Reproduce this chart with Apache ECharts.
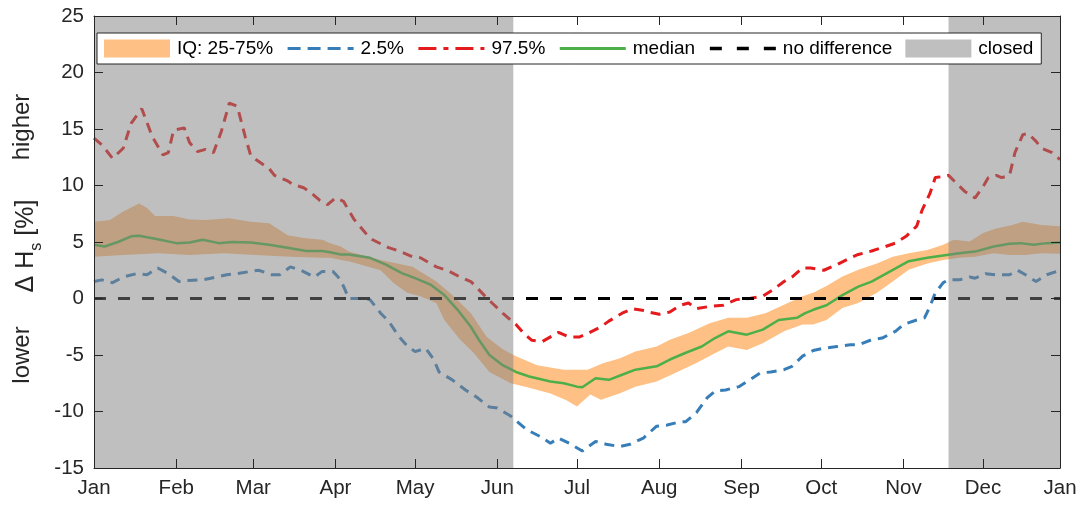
<!DOCTYPE html>
<html lang="en">
<head>
  <meta charset="UTF-8">
  <title>Hs difference</title>
  <script src="https://cdn.jsdelivr.net/npm/echarts@6.0.0/dist/echarts.min.js"></script>
  <style>
    body { margin: 0; background: #fff; }
  </style>
</head>
<body>
<div id="main" style="width:1081px;height:508px"></div>
<script>
  // x = day of year (leap year, 0 = 1 Jan)
  var monthTicks = [0, 31, 60, 91, 121, 152, 182, 213, 244, 274, 305, 335, 364];
  var monthNames = ['Jan','Feb','Mar','Apr','May','Jun','Jul','Aug','Sep','Oct','Nov','Dec','Jan'];

  var p975Days = [0,3,7,11,14,18,22,26,28,30,34,36,39,42,45,48,51,54,57,59,61,66,68,73,75,79,81,85,88,91,94,98,103,105,111,115,120,123,129,133,138,142,147,150,154,159,162,165,169,172,175,179,183,186,191,194,199,203,208,209,213,217,221,224,227,232,237,242,247,252,256,260,263,267,270,275,280,285,288,293,297,302,306,310,312,315,317,320,322,325,328,332,335,337,340,342,345,347,350,352,355,357,361,364];
  var p975Values = [14.2,13.6,12.4,13.3,15.5,16.8,14.3,12.7,12.9,14.9,15.1,13.8,13.0,13.2,12.9,14.8,17.3,17.0,14.3,12.7,12.3,11.5,10.9,10.4,10.1,9.8,9.5,8.7,8.3,8.9,8.6,7.0,5.6,5.2,4.5,4.2,3.7,3.6,2.8,2.5,1.9,1.5,0.3,-0.4,-1.3,-2.3,-3.1,-3.7,-3.8,-3.4,-3.0,-3.4,-3.4,-3.1,-2.5,-2.0,-1.3,-0.9,-1.1,-1.2,-1.4,-1.2,-0.6,-0.4,-0.9,-0.7,-0.6,-0.1,0.0,0.2,0.8,1.5,1.9,2.7,2.7,2.5,3.0,3.6,3.9,4.2,4.5,4.9,5.5,6.4,7.8,9.3,10.7,10.8,10.9,10.2,9.5,8.9,9.9,10.7,10.9,10.7,10.9,12.9,14.5,14.6,13.9,13.3,12.9,12.3];

  var p025Days = [0,3,7,11,16,20,24,28,32,35,41,44,50,54,59,62,67,70,74,78,83,86,90,92,94,96,100,104,108,111,115,118,121,125,128,130,135,140,144,149,152,157,160,163,168,172,175,179,184,189,193,198,202,207,212,216,221,223,227,231,234,238,243,247,251,255,260,263,267,271,275,280,285,288,293,297,302,305,310,313,315,317,320,322,326,330,332,336,340,345,348,351,355,359,364];
  var p025Values = [1.5,1.65,1.4,1.9,2.2,2.1,2.7,2.2,1.5,1.6,1.65,1.8,2.1,2.2,2.4,2.5,2.1,2.1,2.8,2.5,1.9,2.4,2.4,1.9,1.1,0.0,0.0,-0.1,-1.3,-2.0,-3.4,-4.2,-4.7,-4.4,-5.4,-6.5,-7.2,-8.1,-8.7,-9.6,-9.7,-10.4,-11.0,-11.6,-12.2,-12.8,-12.35,-12.8,-13.5,-12.65,-12.9,-13.1,-12.9,-12.35,-11.3,-11.2,-10.9,-10.9,-10.1,-8.8,-8.2,-8.1,-7.8,-7.2,-6.6,-6.5,-6.3,-6.0,-5.1,-4.6,-4.4,-4.25,-4.1,-4.1,-3.65,-3.5,-2.9,-2.3,-1.9,-1.7,-0.7,0.5,1.4,1.65,1.65,1.9,1.8,2.2,2.1,2.1,2.5,2.1,1.5,2.1,2.5];

  var medDays = [0,4,9,14,17,24,31,36,41,47,52,59,66,74,80,86,89,93,96,104,110,116,121,127,132,137,142,145,149,154,159,164,172,177,182,184,189,194,199,204,212,217,223,229,234,239,246,252,258,265,268,271,276,282,288,293,300,307,314,320,326,332,339,345,349,354,359,364];
  var medValues = [4.75,4.6,5.0,5.5,5.55,5.25,4.9,4.95,5.2,4.9,5.0,4.95,4.75,4.45,4.2,4.2,4.1,3.9,3.9,3.6,3.0,2.25,1.8,1.2,0.3,-1.0,-2.5,-3.65,-5.0,-5.9,-6.5,-6.9,-7.35,-7.5,-7.8,-7.85,-7.05,-7.2,-6.75,-6.3,-6.0,-5.4,-4.8,-4.25,-3.5,-2.9,-3.2,-2.75,-1.9,-1.7,-1.3,-1.0,-0.6,0.3,1.05,1.5,2.4,3.3,3.6,3.8,4.0,4.15,4.6,4.85,4.9,4.75,4.9,4.95];

  var q75Days = [0,6,11,17,20,23,30,36,42,51,59,66,73,79,86,89,93,96,108,120,129,135,142,148,154,159,167,177,182,186,192,198,204,212,217,224,232,239,246,253,260,267,271,276,282,288,295,301,307,314,320,324,330,335,340,346,350,357,364];
  var q75Values = [6.8,6.95,7.7,8.4,8.0,7.3,7.3,7.0,6.95,7.1,6.8,6.65,5.6,5.35,5.2,4.9,4.6,4.15,3.4,2.8,1.5,0.3,-1.3,-3.4,-4.5,-5.1,-5.9,-6.3,-6.3,-6.3,-5.7,-5.3,-4.7,-4.25,-3.65,-3.05,-2.2,-1.7,-1.7,-1.3,-0.55,0.2,0.5,1.1,1.95,2.55,3.1,3.7,4.0,4.3,4.75,5.2,5.05,5.8,6.2,6.5,6.8,6.5,6.4];

  var q25Days = [0,11,24,36,49,61,74,86,89,93,96,108,113,118,123,129,132,138,143,149,157,164,172,178,182,187,191,198,204,212,219,227,234,239,246,252,260,267,271,276,282,288,295,301,307,314,320,326,332,339,345,351,357,364];
  var q25Values = [3.7,3.85,4.0,3.85,4.0,3.85,3.7,3.6,3.6,3.4,3.3,2.5,1.35,0.5,0.2,-0.4,-1.9,-3.65,-4.8,-6.5,-7.5,-7.9,-8.4,-9.0,-9.55,-8.5,-8.95,-8.4,-7.8,-7.35,-6.6,-5.7,-4.85,-4.25,-4.55,-3.95,-2.9,-2.3,-2.3,-1.9,-0.85,-0.4,0.5,1.5,2.55,3.1,3.4,3.6,3.7,4.0,3.85,3.85,4.0,3.95];

  var zeroDays = [0, 364];
  var zeroValues = [0, 0];

  // closed periods [from, to] in days
  var closedRanges = [[0, 158], [322, 364]];

  var FONT = '"Liberation Sans", Arial, Helvetica, sans-serif';
  var TXT = '#262626';

  function pairs(days, vals) {
    return days.map(function (d, i) { return [d, vals[i]]; });
  }

  var chart = echarts.init(document.querySelector('#main'));

  var xBase = {
    type: 'value', min: 0, max: 364,
    splitLine: {show: false},
    axisLine: {onZero: false, lineStyle: {color: TXT, width: 1}},
    axisTick: {inside: true, length: 9, customValues: monthTicks, lineStyle: {color: TXT}},
    z: 20
  };
  var yBase = {
    type: 'value', min: -15, max: 25, interval: 5,
    splitLine: {show: false},
    axisLine: {show: true, onZero: false, lineStyle: {color: TXT, width: 1}},
    axisTick: {show: true, inside: true, length: 9, lineStyle: {color: TXT}},
    z: 20
  };

  // hide the marker dot that echarts puts on line legend icons
  var noDot = {opacity: 0, borderWidth: 0};

  chart.setOption({
    animation: false,
    grid: {left: 94, right: 21, top: 16, bottom: 40},
    legend: {
      left: 97, top: 33,
      padding: [6, 8, 6, 7],
      itemWidth: 66, itemHeight: 18, itemGap: 13,
      borderColor: TXT, borderWidth: 1, backgroundColor: '#fff',
      textStyle: {fontSize: 19, color: '#000', fontFamily: FONT, padding: [0, 0, 0, 2]},
      data: [
        {name: 'IQ: 25-75%', icon: 'rect'},
        {name: '2.5%', itemStyle: noDot, lineStyle: {width: 3, type: [13, 7]}},
        {name: '97.5%', itemStyle: noDot, lineStyle: {width: 3, type: [18, 7, 5, 7]}},
        {name: 'median', itemStyle: noDot, lineStyle: {width: 3}},
        {name: 'no difference', itemStyle: noDot, lineStyle: {width: 3.5, type: [12, 15]}},
        {name: 'closed', icon: 'rect'}
      ],
      z: 30
    },
    xAxis: [
      echarts.util.merge({
        position: 'bottom',
        axisLabel: {
          customValues: monthTicks, showMinLabel: true, showMaxLabel: true,
          color: TXT, fontSize: 20.5, fontFamily: FONT, margin: 10,
          formatter: function (v) { return monthNames[monthTicks.indexOf(Math.round(v))]; }
        }
      }, xBase, true),
      echarts.util.merge({position: 'top', axisLabel: {show: false}}, xBase, true)
    ],
    yAxis: [
      echarts.util.merge({
        position: 'left',
        axisLabel: {color: TXT, fontSize: 20.5, fontFamily: FONT, margin: 10}
      }, yBase, true),
      echarts.util.merge({position: 'right', axisLabel: {show: false}}, yBase, true)
    ],
    graphic: [
      {type: 'text', x: 22, y: 127, rotation: Math.PI / 2,
        style: {text: 'higher', fontSize: 24, fontFamily: FONT, fill: TXT, align: 'center', verticalAlign: 'middle'}},
      {type: 'text', x: 22, y: 355, rotation: Math.PI / 2,
        style: {text: 'lower', fontSize: 24, fontFamily: FONT, fill: TXT, align: 'center', verticalAlign: 'middle'}},
      {type: 'text', x: 26, y: 246, rotation: Math.PI / 2,
        style: {
          text: '{a|Δ H}{s|s}{a| [%]}', fill: TXT, align: 'center', verticalAlign: 'middle',
          rich: {
            a: {fontSize: 25, lineHeight: 24, fontFamily: FONT, fill: TXT, verticalAlign: 'top'},
            s: {fontSize: 16, lineHeight: 16, fontFamily: FONT, fill: TXT, verticalAlign: 'top', padding: [15, 0, 0, 0]}
          }
        }}
    ],
    series: [
      {
        name: 'IQ: 25-75%',
        type: 'custom',
        itemStyle: {color: '#fec084'},
        data: [[0, 0]],
        renderItem: function (params, api) {
          var pts = [];
          for (var i = 0; i < q75Days.length; i++) pts.push(api.coord([q75Days[i], q75Values[i]]));
          for (var j = q25Days.length - 1; j >= 0; j--) pts.push(api.coord([q25Days[j], q25Values[j]]));
          return {type: 'polygon', shape: {points: pts}, style: {fill: '#fec084'}};
        },
        z: 1
      },
      {
        name: '2.5%', type: 'line', symbol: 'none',
        data: pairs(p025Days, p025Values),
        itemStyle: {color: '#377eb8'},
        lineStyle: {color: '#377eb8', width: 3, type: [10, 7]},
        z: 3
      },
      {
        name: '97.5%', type: 'line', symbol: 'none',
        data: pairs(p975Days, p975Values),
        itemStyle: {color: '#e41a1c'},
        lineStyle: {color: '#e41a1c', width: 3, type: [10, 7]},
        z: 3
      },
      {
        name: 'median', type: 'line', symbol: 'none',
        data: pairs(medDays, medValues),
        itemStyle: {color: '#4daf4a'},
        lineStyle: {color: '#4daf4a', width: 2.5},
        z: 4
      },
      {
        name: 'no difference', type: 'line', symbol: 'none',
        data: pairs(zeroDays, zeroValues),
        itemStyle: {color: '#000'},
        lineStyle: {color: '#000', width: 3, type: [12, 12]},
        z: 5
      },
      {
        // semi-transparent grey laid over everything for the closed periods
        name: 'closed', type: 'custom',
        itemStyle: {color: '#bfbfbf'},
        encode: {x: [0, 1]},
        data: closedRanges,
        renderItem: function (params, api) {
          var cs = params.coordSys;
          var x0 = api.coord([api.value(0), 0])[0];
          var x1 = api.coord([api.value(1), 0])[0];
          return {
            type: 'rect',
            shape: {x: x0, y: cs.y, width: x1 - x0, height: cs.height},
            style: {fill: 'rgba(128,128,128,0.5)'}
          };
        },
        silent: true,
        z: 10
      }
    ]
  });
</script>
</body>
</html>
